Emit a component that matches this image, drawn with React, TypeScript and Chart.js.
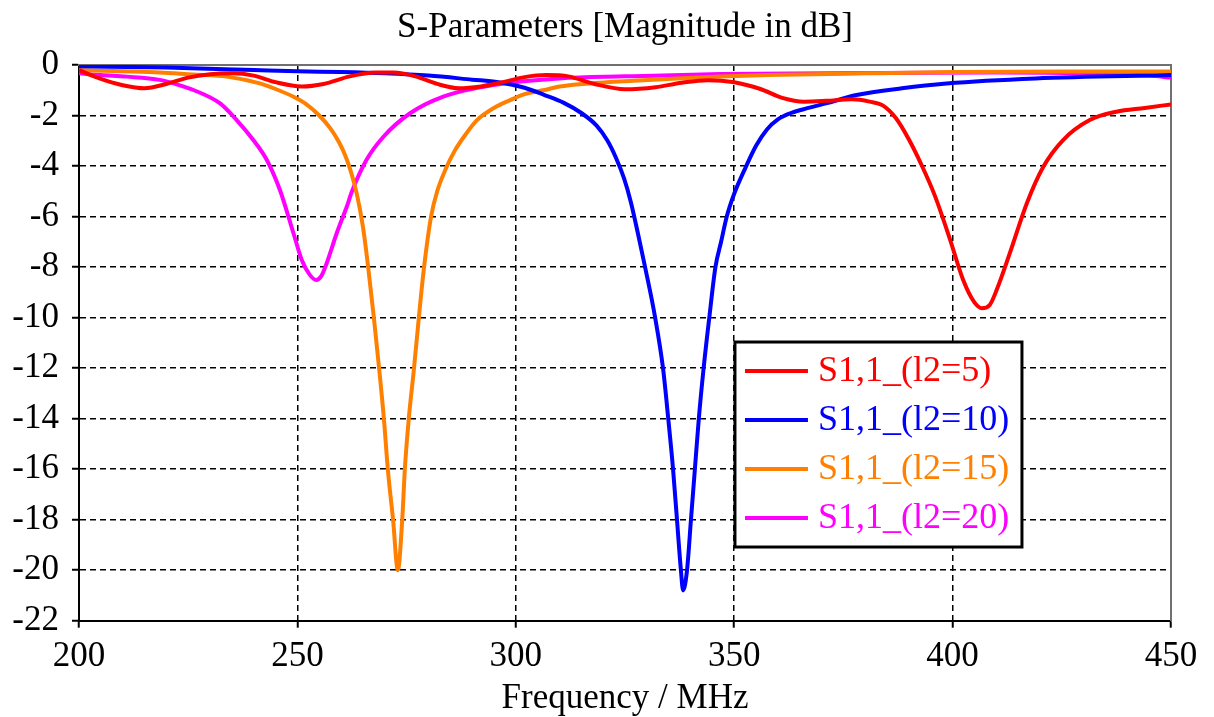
import React, { useEffect, useRef } from 'react';
import { Chart, registerables } from 'chart.js';

Chart.register(...registerables);

const FONT = "'Liberation Serif', 'Times New Roman', serif";

const chartTitle = 'S-Parameters [Magnitude in dB]';
const xTitle = 'Frequency / MHz';
const xMin = 200, xMax = 450, xStep = 50;
const yMin = -22, yMax = 0, yStep = 2;

const seriesLabels = ['S1,1_(l2=5)', 'S1,1_(l2=10)', 'S1,1_(l2=15)', 'S1,1_(l2=20)'];
const seriesColors = ['#ff0000', '#0000ff', '#ff8000', '#ff00ff'];

// l2 = 5 (red)
const freqL5 = [200, 205, 210, 215, 220, 225, 230, 235, 240, 245, 251, 256, 262, 268, 272, 277, 282, 287, 292, 297, 302, 307, 312, 318, 325, 332, 338, 344, 350, 356, 361, 366, 371, 377, 381, 384, 387, 390, 393, 396, 399.4, 402.4, 405, 406.7, 408.5, 410.1, 413.1, 417, 420.8, 425.3, 431.4, 437.5, 444, 450];
const dbL5 = [-0.2, -0.55, -0.8, -0.92, -0.75, -0.5, -0.37, -0.33, -0.42, -0.68, -0.85, -0.75, -0.45, -0.3, -0.3, -0.45, -0.75, -0.92, -0.85, -0.68, -0.48, -0.4, -0.45, -0.75, -0.96, -0.88, -0.7, -0.6, -0.68, -0.95, -1.3, -1.45, -1.42, -1.36, -1.45, -1.6, -2.1, -2.95, -4.0, -5.2, -6.9, -8.5, -9.4, -9.63, -9.5, -8.9, -7.45, -5.47, -4.02, -2.97, -2.18, -1.85, -1.7, -1.56];

// l2 = 10 (blue)
const freqL10 = [200, 220, 240, 250, 260, 270, 280, 290, 296, 302, 306.6, 311, 315, 318.5, 321, 323, 324.8, 326.3, 328, 329.6, 331.9, 333.7, 334.9, 336, 336.9, 337.8, 338.3, 339.2, 340.1, 341, 341.9, 343, 344.3, 345.7, 347, 348.3, 350, 352.5, 355, 357.5, 360, 363, 367, 371, 378, 388.4, 398.6, 419, 450];
const dbL10 = [-0.05, -0.1, -0.2, -0.25, -0.28, -0.33, -0.42, -0.58, -0.68, -0.9, -1.19, -1.5, -1.9, -2.4, -3.0, -3.7, -4.5, -5.4, -6.7, -8.0, -10.0, -12.0, -14.0, -16.0, -18.0, -20.0, -20.8, -20.0, -18.0, -16.0, -14.0, -12.0, -10.0, -8.0, -7.0, -6.0, -5.1, -4.1, -3.2, -2.55, -2.15, -1.9, -1.7, -1.52, -1.19, -0.92, -0.73, -0.53, -0.4];

// l2 = 15 (orange)
const freqL15 = [200, 210, 218.5, 226, 233.8, 241.4, 245, 249, 252, 255, 257.5, 259.5, 261, 262.3, 263.6, 265, 266.2, 267.5, 268.7, 269.8, 270.7, 271.9, 273, 274, 274.6, 275.5, 276.7, 277.8, 279, 280.6, 282, 284, 286, 288.5, 291, 295, 298.7, 302, 306.6, 310, 316.8, 327, 337, 347, 357.7, 380, 400, 425, 450];
const dbL15 = [-0.2, -0.25, -0.3, -0.38, -0.46, -0.73, -0.95, -1.25, -1.55, -2.0, -2.5, -3.05, -3.6, -4.25, -5.1, -6.4, -8.0, -10.0, -12.0, -14.0, -16.0, -18.0, -20.0, -18.0, -16.0, -14.0, -12.0, -10.0, -8.0, -6.0, -5.0, -4.1, -3.4, -2.75, -2.2, -1.7, -1.39, -1.15, -0.99, -0.85, -0.73, -0.62, -0.53, -0.46, -0.4, -0.33, -0.28, -0.26, -0.26];

// l2 = 20 (magenta)
const freqL20 = [200, 205, 210.9, 218.5, 222, 226.2, 232.3, 236.1, 239.9, 243, 246, 249.1, 251, 252.8, 254.3, 255.5, 256.7, 259, 261.3, 262.5, 265.8, 269.7, 275.8, 283.4, 294.8, 310, 325, 347, 380, 410, 430, 445, 450];
const dbL20 = [-0.33, -0.4, -0.46, -0.59, -0.75, -0.99, -1.52, -2.18, -2.97, -3.76, -4.95, -6.66, -7.72, -8.3, -8.51, -8.35, -7.85, -6.66, -5.61, -5.0, -3.76, -2.84, -1.91, -1.25, -0.79, -0.53, -0.45, -0.36, -0.32, -0.3, -0.33, -0.42, -0.5];

const seriesFreqs = [freqL5, freqL10, freqL15, freqL20];
const seriesDb = [dbL5, dbL10, dbL15, dbL20];

const boxLegend = {
  id: 'boxLegend',
  afterDraw(chart: any) {
    const { ctx, chartArea: a } = chart;
    const w = a.right - a.left;
    const h = a.bottom - a.top;
    const left = a.left + 0.6007 * w;
    const top = a.top + 0.4985 * h;
    const bw = 287;
    const bh = 205;
    ctx.save();
    ctx.fillStyle = '#ffffff';
    ctx.fillRect(left, top, bw, bh);
    ctx.lineWidth = 3;
    ctx.strokeStyle = '#000000';
    ctx.strokeRect(left, top, bw, bh);
    ctx.font = `36px ${FONT}`;
    ctx.textBaseline = 'middle';
    ctx.textAlign = 'left';
    chart.data.datasets.forEach((ds: any, i: number) => {
      const y = top + 29 + i * 49;
      ctx.strokeStyle = ds.borderColor;
      ctx.lineWidth = 4;
      ctx.beginPath();
      ctx.moveTo(left + 10, y);
      ctx.lineTo(left + 73, y);
      ctx.stroke();
      ctx.fillStyle = ds.borderColor;
      ctx.fillText(ds.label, left + 83, y + 1);
    });
    ctx.restore();
  },
};

export default function App() {
  const canvasRef = useRef<HTMLCanvasElement | null>(null);

  useEffect(() => {
    if (!canvasRef.current) return;
    const hideEdge = (edges: number[]) => (c: any) =>
      c.tick && edges.includes(c.tick.value) ? 'rgba(0,0,0,0)' : '#000000';

    const chart = new Chart(canvasRef.current, {
      type: 'line',
      data: {
        datasets: seriesLabels.map((label, i) => ({
          label,
          data: seriesFreqs[i].map((f, j) => ({ x: f, y: seriesDb[i][j] })),
          borderColor: seriesColors[i],
          backgroundColor: seriesColors[i],
          borderWidth: 4,
          pointRadius: 0,
          fill: false,
          cubicInterpolationMode: 'monotone' as const,
        })),
      },
      plugins: [boxLegend],
      options: {
        animation: false,
        responsive: true,
        maintainAspectRatio: false,
        layout: { padding: { left: 0, right: 43, top: 0, bottom: 0 } },
        plugins: {
          legend: { display: false },
          tooltip: { enabled: false },
          title: {
            display: true,
            fullSize: false,
            text: chartTitle,
            color: '#000',
            font: { family: FONT, size: 35, weight: 'normal', lineHeight: 1.2 },
            padding: { top: 7, bottom: 16 },
          },
        },
        scales: {
          x: {
            type: 'linear',
            position: 'bottom',
            min: xMin,
            max: xMax,
            afterFit: (s: any) => { s.height = 96.3; },
            ticks: {
              stepSize: xStep,
              color: '#000',
              font: { family: FONT, size: 35 },
              padding: 8,
              maxRotation: 0,
              autoSkip: false,
            },
            grid: {
              color: hideEdge([xMin, xMax]),
              lineWidth: 1.5,
              tickColor: '#000',
              tickLength: 7,
              tickWidth: 2,
              tickBorderDash: [],
            },
            border: { display: true, color: '#000', width: 2, dash: [6, 4] },
            title: {
              display: true,
              text: xTitle,
              color: '#000',
              font: { family: FONT, size: 35, lineHeight: 1 },
              padding: { top: 0, bottom: 1 },
            },
          },
          y: {
            type: 'linear',
            position: 'left',
            min: yMin,
            max: yMax,
            afterFit: (s: any) => { s.width = 79; },
            ticks: {
              stepSize: yStep,
              color: '#000',
              font: { family: FONT, size: 35 },
              padding: 13,
              autoSkip: false,
            },
            grid: {
              color: hideEdge([yMin, yMax]),
              lineWidth: 1.5,
              tickColor: '#000',
              tickLength: 7,
              tickWidth: 2,
              tickBorderDash: [],
            },
            border: { display: true, color: '#000', width: 2, dash: [6, 4] },
          },
          xTop: {
            type: 'linear',
            position: 'top',
            min: xMin,
            max: xMax,
            afterFit: (s: any) => { s.height = 0; },
            ticks: { display: false },
            grid: { display: false, drawTicks: false },
            border: { display: true, color: '#707070', width: 2 },
          },
          yRight: {
            type: 'linear',
            position: 'right',
            min: yMin,
            max: yMax,
            afterFit: (s: any) => { s.width = 0; },
            ticks: { display: false },
            grid: { display: false, drawTicks: false },
            border: { display: true, color: '#707070', width: 2 },
          },
        },
      },
    } as any);
    return () => chart.destroy();
  }, []);

  return (
    <div style={{ position: 'absolute', left: 0, top: 0, width: 1214, height: 717, background: '#fff' }}>
      <canvas ref={canvasRef} />
    </div>
  );
}
